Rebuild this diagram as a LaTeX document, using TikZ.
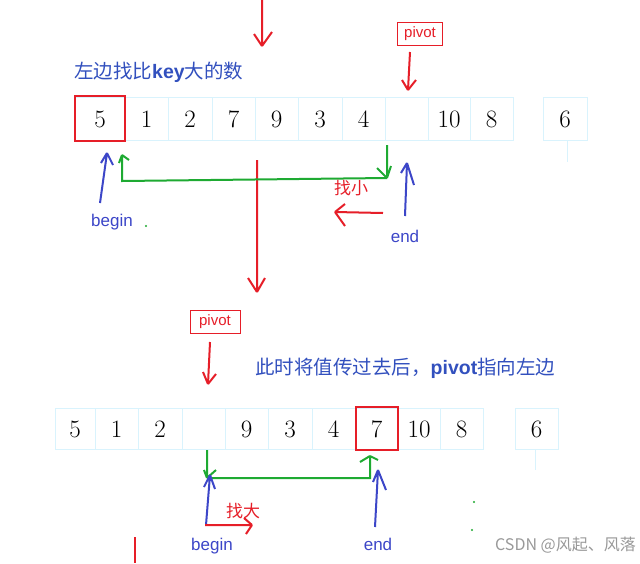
\documentclass[tikz,border=0pt]{standalone}
\usepackage{fontspec}
\setmainfont{Latin Modern Roman}
\newfontfamily\cjk{Noto Sans CJK SC}
\newfontfamily\sans{Liberation Sans}
\definecolor{pblue}{RGB}{60,70,200}
\definecolor{tblue}{RGB}{50,80,190}
\definecolor{pgreen}{RGB}{30,170,50}
\definecolor{pred}{RGB}{230,30,40}
\begin{document}
\begin{tikzpicture}[x=1pt,y=-1pt,
  cellb/.style={draw=cyan!15!white,line width=0.8pt},
  num/.style={font=\fontsize{25}{25}\selectfont},
  redbox/.style={draw=pred,line width=2pt},
  pen/.style={line width=2pt},
  lab/.style={font=\sans\fontsize{17}{17}\selectfont,text=pblue},
  cn/.style={font=\cjk\fontsize{17}{17}\selectfont},
  title/.style={font=\cjk\fontsize{19.5}{19.5}\selectfont,text=tblue,anchor=west,inner sep=0pt}]
\useasboundingbox (0,0) rectangle (640,563);
\fill[white] (0,0) rectangle (640,563);
% row 1
\foreach \a/\b/\t [count=\i] in {75/125/5,125/168/1,168/212/2,212/255/7,255/298/9,298/342/3,342/385/4,385/428/{},428/470/10,470/513/8,543/587/6}{
  \draw[cellb] (\a,97) rectangle (\b,140);
  \node[num] (r\i) at ({(\a+\b)/2},119) {\t};}
\draw[redbox] (75,96) rectangle (125,141);
\draw[cellb] (567,140) -- (567,162);
% row 2
\foreach \a/\b/\t [count=\i] in {55/95/5,95/138/1,138/182/2,182/225/{},225/268/9,268/312/3,312/355/4,355/398/7,398/440/10,440/483/8,515/558/6}{
  \draw[cellb] (\a,408) rectangle (\b,449);
  \node[num] (s\i) at ({(\a+\b)/2},429) {\t};}
\draw[redbox] (356,407) rectangle (398,450);
\draw[cellb] (535,449) -- (535,470);
% texts
\node[title] (t1) at (74,72) {左边找比\textbf{\sans key}大的数};
\node[title] (t2) at (255,368) {此时将值传过去后，\textbf{\sans pivot}指向左边};
% pivot boxes
\node[draw=pred,line width=1pt,text=pred,font=\sans\fontsize{15}{15}\selectfont,minimum width=45pt,minimum height=23pt,inner sep=1pt] (p1) at (420,34) {pivot};
\node[draw=pred,line width=1pt,text=pred,font=\sans\fontsize{15}{15}\selectfont,minimum width=50pt,minimum height=23pt,inner sep=1pt] (p2) at (215,322) {pivot};
\coordinate (p1e) at (408,90);
\coordinate (p2e) at (208,384);
\draw[pred,pen] (410,52) -- (p1e);
\draw[pred,pen] (p1e) -- ++(-6,-10) (p1e) -- ++(8,-10);
\draw[pred,pen] (210,342) -- (p2e);
\draw[pred,pen] (p2e) -- ++(-5,-12) (p2e) -- ++(8,-10);
% red vertical lines
\coordinate (v1) at (262,46);
\draw[pred,pen] (262,0) -- (v1) (v1) -- ++(-8,-12) (v1) -- ++(10,-14);
\coordinate (v2) at (257,292);
\draw[pred,pen] (257,160) -- (v2) (v2) -- ++(-9,-14) (v2) -- ++(8,-14);
\coordinate (v3a) at (135,537); \coordinate (v3b) at (135,563);
\draw[pred,pen] (v3a) -- (v3b);
% row 1 connectors
\coordinate (g1) at (387,178); \coordinate (g2) at (122,181); \coordinate (g3) at (122,155);
\draw[pgreen,pen] (387,145) -- (g1) (g1) -- ++(-10,-10) (g1) -- ++(4,-12);
\draw[pgreen,pen] (g1) -- (g2) -- (g3) (g3) -- ++(7,5) (g3) -- ++(-3,8);
\coordinate (b1) at (107,153); \coordinate (e1) at (407,163);
\draw[pblue,pen] (100,203) -- (b1) (b1) -- ++(-6,10) (b1) -- ++(6,12);
\draw[pblue,pen] (405,216) -- (e1) (e1) -- ++(-6,10) (e1) -- ++(7,22);
\node[lab] (bg1) at (112,222) {begin};
\node[lab] (en1) at (405,236) {end};
\node[cn,text=pred] (z1) at (351,188) {找小};
\coordinate (ra) at (335,212);
\draw[pred,pen] (383,213) -- (ra) (ra) -- ++(10,-8) (ra) -- ++(10,14);
\fill[pgreen] (146,226) circle (1.2pt);
% row 2 connectors
\coordinate (h1) at (207,478); \coordinate (h2) at (370,478); \coordinate (h3) at (370,456);
\draw[pgreen,pen] (207,450) -- (h1) (h1) -- ++(-3,-8) (h1) -- ++(9,-8);
\draw[pgreen,pen] (h1) -- (h2) -- (h3) (h3) -- ++(-10,6) (h3) -- ++(8,4);
\coordinate (b2) at (210,475); \coordinate (e2) at (378,470);
\draw[pblue,pen] (206,525) -- (b2) (b2) -- ++(-6,12) (b2) -- ++(5,14);
\draw[pblue,pen] (375,527) -- (e2) (e2) -- ++(-5,12) (e2) -- ++(8,20);
\node[lab] (bg2) at (212,546) {begin};
\node[lab] (en2) at (378,544) {end};
\node[cn,text=pred] (z2) at (243,511) {找大};
\coordinate (rb) at (252,525);
\draw[pred,pen] (205,525) -- (rb) (rb) -- ++(-8,-7) (rb) -- ++(-6,9);
\fill[pgreen] (474,502) circle (1.2pt) (472,530) circle (1.2pt);
\node[anchor=east,text=gray!80,font=\cjk\fontsize{16}{16}\selectfont,inner sep=0pt] (wm) at (636,545) {CSDN @风起、风落};
\end{tikzpicture}
\end{document}
